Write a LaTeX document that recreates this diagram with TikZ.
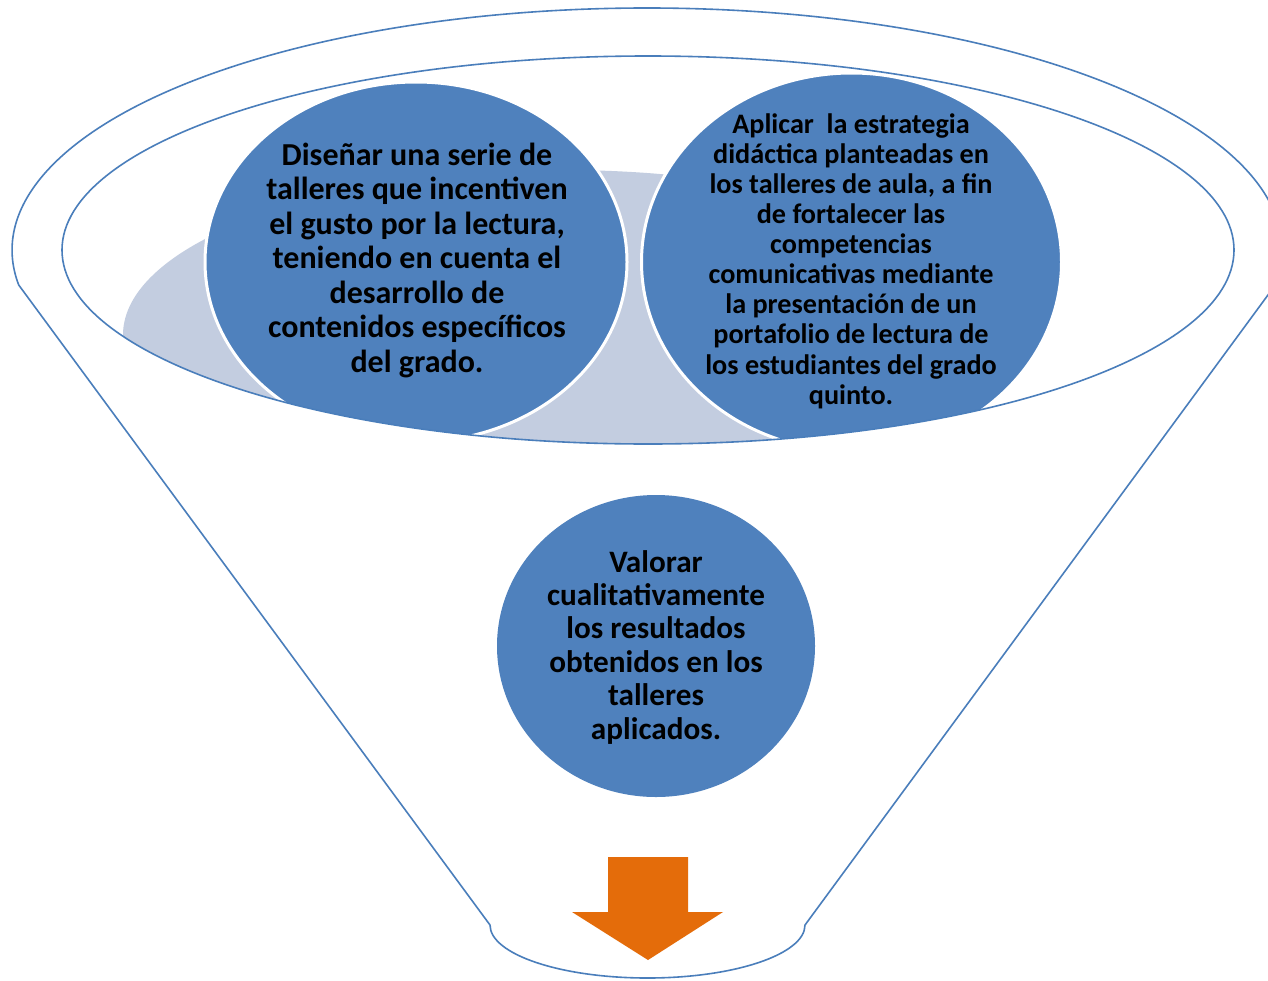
\documentclass[tikz,border=0pt]{standalone}
\usepackage{fontspec}
\setmainfont{Carlito}
\usetikzlibrary{shapes.geometric}
\definecolor{cblue}{HTML}{4F81BD}
\definecolor{cline}{HTML}{4A7EBB}
\definecolor{clight}{HTML}{C3CDE0}
\definecolor{corange}{HTML}{E46C0A}
\tikzset{
  outline/.style={draw=cline, line width=1.6pt},
  bubble/.style={ellipse, fill=cblue, draw=white, line width=3pt, inner sep=0pt},
  label text/.style={align=center, text=black, inner sep=0pt},
}
\begin{document}
\begin{tikzpicture}[x=1pt,y=1pt]
\useasboundingbox[fill=white] (0,0) rectangle (1268,-980);
% light back shape and top circles, clipped by the inner rim
\begin{scope}
  \clip (648,-250) ellipse[x radius=586, y radius=194];
  \fill[clight] (563,-335) ellipse[x radius=440, y radius=165];
  \node[bubble, minimum width=422pt, minimum height=360pt] (c1) at (416,-262) {};
  \node[bubble, minimum width=420pt, minimum height=378pt] (c2) at (851.5,-262) {};
\end{scope}
\node[label text, font=\fontsize{32}{34.5}\selectfont\bfseries] (t1) at (417,-260)
  {Diseñar una serie de\\talleres que incentiven\\el gusto por la lectura,\\teniendo en cuenta el\\desarrollo de\\contenidos específicos\\del grado.};
\node[label text, font=\fontsize{28.2}{30.1}\selectfont\bfseries] (t2) at (851,-261)
  {Aplicar\ \ la estrategia\\didáctica planteadas en\\los talleres de aula, a fin\\de fortalecer las\\competencias\\comunicativas mediante\\la presentación de un\\portafolio de lectura de\\los estudiantes del grado\\quinto.};
% funnel outline
\draw[outline, line join=round] (1275.3,-285) arc[start angle=-8.32, end angle=188.32, x radius=635, y radius=242]
  -- (490,-925) arc[start angle=180, end angle=360, x radius=157.5, y radius=53] -- cycle;
\draw[outline] (648,-250) ellipse[x radius=586, y radius=194];
% falling circle
\node[bubble, draw=none, minimum width=318pt, minimum height=302pt] (c3) at (656,-646) {};
\node[label text, font=\fontsize{31.2}{33.4}\selectfont\bfseries] (t3) at (656,-647)
  {Valorar\\cualitativamente\\los resultados\\obtenidos en los\\talleres\\aplicados.};
% arrow
\fill[corange] (608,-857) -- (688,-857) -- (688,-912) -- (723,-912) -- (648,-960) -- (572,-912) -- (608,-912) -- cycle;
\end{tikzpicture}
\end{document}
